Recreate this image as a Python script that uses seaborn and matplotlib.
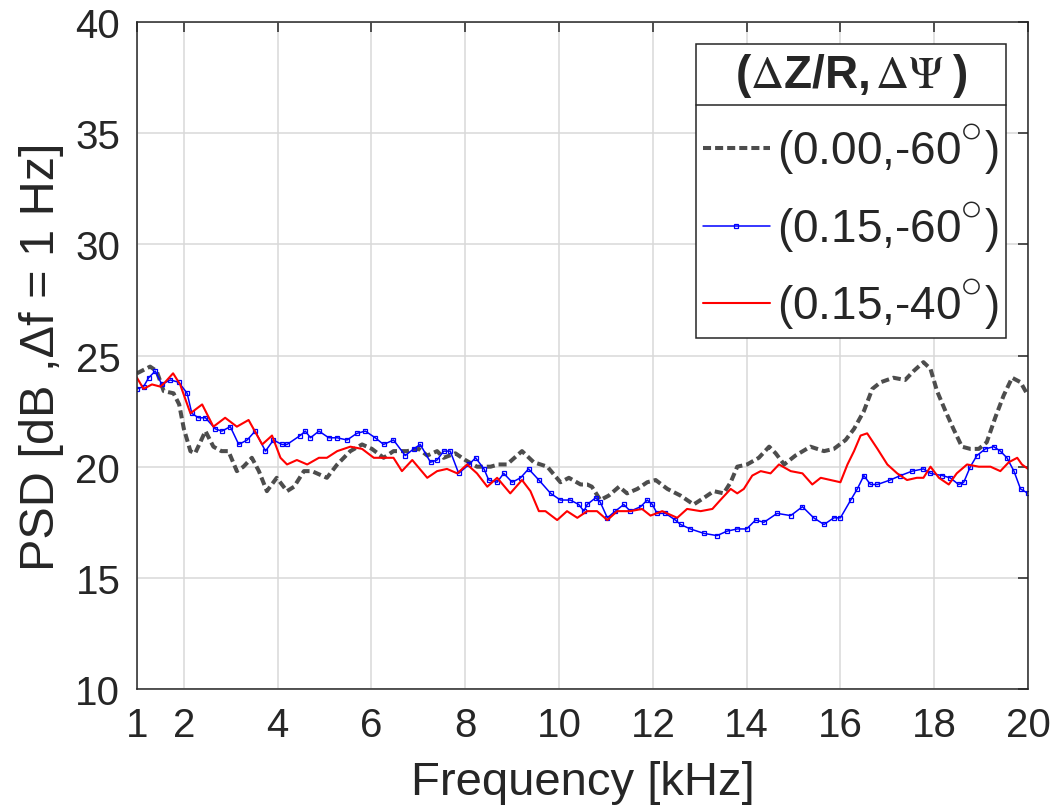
import matplotlib
matplotlib.use('Agg')
import matplotlib.pyplot as plt
from matplotlib.lines import Line2D
import pandas as pd
import seaborn as sns

OUT_FILE_NAME = 'out.png'

# series 1: (0.00,-60 deg), dotted gray
freq_a = [1.0, 1.28, 1.42, 1.57, 1.78, 1.9, 2.0, 2.14, 2.24, 2.46, 2.63, 2.8,
          2.95, 3.13, 3.27, 3.45, 3.6, 3.77, 3.98, 4.2, 4.35, 4.56, 4.73, 5.05,
          5.27, 5.55, 5.8, 6.01, 6.26, 6.47, 6.76, 7.01, 7.19, 7.4, 7.54, 7.79,
          8.0, 8.25, 8.54, 8.71, 8.89, 9.21, 9.46, 9.75, 10.03, 10.21, 10.46,
          10.6, 10.7, 10.88, 11.06, 11.28, 11.45, 11.67, 11.88, 12.06, 12.31,
          12.59, 12.87, 13.09, 13.3, 13.51, 13.66, 13.8, 14.01, 14.26, 14.48,
          14.62, 14.8, 15.04, 15.36, 15.65, 15.86, 16.11, 16.29, 16.5, 16.68,
          16.86, 17.13, 17.38, 17.56, 17.77, 17.92, 18.06, 18.24, 18.41, 18.59,
          18.77, 18.95, 19.12, 19.3, 19.48, 19.66, 19.84, 20.0]
psd_a = [24.2, 24.5, 24.3, 23.4, 23.3, 22.8, 21.7, 20.7, 20.6, 21.6, 20.9, 20.7,
         20.7, 19.8, 20.0, 20.4, 19.8, 18.9, 19.5, 18.9, 19.1, 19.8, 19.8, 19.5,
         20.1, 20.7, 21.0, 20.8, 20.4, 20.7, 20.7, 20.8, 20.5, 20.7, 20.4, 20.6,
         20.3, 20.0, 20.0, 20.1, 20.1, 20.7, 20.2, 20.0, 19.3, 19.5, 19.2,
         19.2, 19.1, 18.5, 18.7, 19.1, 18.8, 19.0, 19.3, 19.4, 19.0,
         18.7, 18.3, 18.6, 18.9, 18.8, 19.3, 20.0, 20.1, 20.4, 20.9,
         20.6, 20.1, 20.5, 20.9, 20.7, 20.8, 21.2, 21.7, 22.5, 23.5,
         23.8, 24.0, 23.9, 24.3, 24.7, 24.4, 23.4, 22.5, 21.7, 20.9,
         20.8, 20.8, 21.1, 22.2, 23.2, 24.0, 23.8, 23.2]

# series 2: (0.15,-60 deg), blue with square markers
freq_b = [1.0, 1.14, 1.25, 1.39, 1.53, 1.71, 1.89, 2.07, 2.17, 2.31, 2.46, 2.67,
          2.81, 2.99, 3.17, 3.35, 3.52, 3.74, 3.91, 4.09, 4.2, 4.48, 4.59, 4.7,
          4.88, 5.09, 5.27, 5.48, 5.69, 5.87, 6.08, 6.26, 6.47, 6.72, 6.9, 7.04,
          7.26, 7.4, 7.54, 7.68, 7.86, 8.08, 8.22, 8.4, 8.5, 8.68, 8.82, 9.0,
          9.18, 9.35, 9.57, 9.82, 10.03, 10.24, 10.42, 10.53, 10.6, 10.78,
          10.88, 11.03, 11.2, 11.38, 11.52, 11.74, 11.88, 11.99, 12.09, 12.27,
          12.48, 12.59, 12.8, 13.09, 13.37, 13.58, 13.8, 14.0, 14.19, 14.37,
          14.65, 14.94, 15.19, 15.43, 15.65, 15.86, 16.0, 16.22, 16.36, 16.5,
          16.64, 16.79, 17.06, 17.28, 17.53, 17.77, 17.92, 18.17, 18.34, 18.52,
          18.63, 18.77, 18.91, 19.09, 19.27, 19.41, 19.55, 19.7, 19.84, 20.0]
psd_b = [23.5, 23.6, 24.0, 24.3, 23.7, 23.9, 23.8, 23.3, 22.4, 22.2, 22.2, 21.7,
         21.6, 21.8, 21.0, 21.2, 21.6, 20.7, 21.2, 21.0, 21.0, 21.4, 21.6, 21.3,
         21.6, 21.3, 21.3, 21.2, 21.5, 21.6, 21.3, 21.0, 21.2, 20.5, 20.8, 21.0,
         20.2, 20.3, 20.7, 20.7, 19.7, 20.1, 20.4, 19.9, 19.4, 19.3, 19.7, 19.3,
         19.5, 19.9, 19.4, 18.8, 18.5, 18.5, 18.3, 18.0, 18.3, 18.6,
         18.4, 17.7, 18.0, 18.3, 18.0, 18.2, 18.5, 18.3, 17.9, 17.9,
         17.6, 17.4, 17.2, 17.0, 16.9, 17.1, 17.2, 17.2, 17.6, 17.5,
         17.9, 17.8, 18.2, 17.7, 17.4, 17.7, 17.7, 18.5, 19.0, 19.6,
         19.2, 19.2, 19.4, 19.6, 19.8, 19.9, 19.7, 19.6, 19.5, 19.2,
         19.3, 20.0, 20.5, 20.8, 20.9, 20.7, 20.4, 19.8, 19.0, 18.8]

# series 3: (0.15,-40 deg), red
freq_c = [1.0, 1.14, 1.32, 1.5, 1.6, 1.77, 1.92, 2.14, 2.39, 2.63, 2.88, 3.13,
          3.38, 3.67, 3.88, 4.06, 4.2, 4.41, 4.63, 4.88, 5.05, 5.27, 5.55, 5.8,
          6.05, 6.26, 6.47, 6.65, 6.87, 7.19, 7.4, 7.61, 7.83, 8.04, 8.25, 8.47,
          8.68, 8.96, 9.21, 9.39, 9.57, 9.71, 9.96, 10.17, 10.39, 10.6, 10.81,
          11.03, 11.24, 11.52, 11.77, 11.95, 12.2, 12.52, 12.73, 13.02, 13.27,
          13.44, 13.66, 13.8, 13.94, 14.12, 14.3, 14.51, 14.69, 14.94, 15.19,
          15.4, 15.58, 15.79, 16.0, 16.15, 16.29, 16.43, 16.57, 16.79, 17.0,
          17.21, 17.42, 17.63, 17.77, 17.92, 18.1, 18.31, 18.48, 18.7, 18.95,
          19.2, 19.41, 19.59, 19.77, 19.87, 20.0]
psd_c = [24.0, 23.5, 23.7, 23.6, 23.8, 24.2, 23.7, 22.4, 22.8, 21.8, 22.2, 21.8,
         22.1, 21.0, 21.4, 20.4, 20.1, 20.3, 20.1, 20.4, 20.4, 20.7, 20.9, 20.8,
         20.4, 20.4, 20.4, 19.8, 20.3, 19.5, 19.8, 19.9, 19.7, 20.1, 19.7, 19.1,
         19.5, 18.8, 19.4, 18.9, 18.0, 18.0, 17.6, 18.0, 17.7, 18.0, 18.0,
         17.6, 18.0, 18.0, 18.1, 17.8, 18.0, 17.7, 18.1, 18.0, 18.1,
         18.5, 19.0, 18.8, 19.0, 19.6, 19.8, 19.7, 20.1, 19.8, 19.7,
         19.2, 19.5, 19.4, 19.3, 20.1, 20.7, 21.4, 21.5, 20.8, 20.1,
         19.7, 19.4, 19.5, 19.5, 20.0, 19.5, 19.2, 19.7, 20.1, 20.0,
         20.0, 19.8, 20.2, 20.4, 20.1, 19.9]

labels = ['(0.00,-60$^{{}^{\\bigcirc}}$)', '(0.15,-60$^{{}^{\\bigcirc}}$)',
          '(0.15,-40$^{{}^{\\bigcirc}}$)']
legend_title = '($\\Delta$Z/R,$\\,\\Delta\\Psi\\;$)'
x_ticks = [1, 2, 4, 6, 8, 10, 12, 14, 16, 18, 20]
y_ticks = [10, 15, 20, 25, 30, 35, 40]

AXIS_COLOR = '#262626'


def main():
    sns.set_style('white')
    plt.rcParams['font.family'] = ['Liberation Sans', 'DejaVu Sans']
    plt.rcParams['mathtext.fontset'] = 'stix'

    fig = plt.figure(figsize=(10.56, 8.12), dpi=100)
    ax = fig.add_axes([0.1297, 0.1502, 0.8438, 0.8215])

    df_a = pd.DataFrame({'freq': freq_a, 'psd': psd_a})
    df_b = pd.DataFrame({'freq': freq_b, 'psd': psd_b})
    df_c = pd.DataFrame({'freq': freq_c, 'psd': psd_c})

    sns.lineplot(data=df_a, x='freq', y='psd', ax=ax, estimator=None,
                 color='#4d4d4d', linewidth=2.9, linestyle=(0, (2, 1)),
                 label=labels[0])
    sns.lineplot(data=df_b, x='freq', y='psd', ax=ax, estimator=None,
                 color='blue', linewidth=1.1, marker='s', markersize=3,
                 markerfacecolor='none', markeredgecolor='blue',
                 markeredgewidth=0.9, label=labels[1])
    sns.lineplot(data=df_c, x='freq', y='psd', ax=ax, estimator=None,
                 color='red', linewidth=1.5, label=labels[2])

    ax.set_xlim(1, 20)
    ax.set_ylim(10, 40)
    ax.set_xticks(x_ticks)
    ax.set_yticks(y_ticks)
    ax.grid(True, color='#d9d9d9', linewidth=1.1)
    ax.tick_params(direction='in', length=7, width=1.1, colors=AXIS_COLOR,
                   labelsize=29, top=True, right=True)
    ax.tick_params(axis='x', pad=12)
    ax.tick_params(axis='y', pad=12)
    for spine in ax.spines.values():
        spine.set_color(AXIS_COLOR)
        spine.set_linewidth(1.1)
        spine.set_visible(True)

    ax.set_xlabel('Frequency [kHz]', fontsize=34, color=AXIS_COLOR, labelpad=12)
    ax.set_ylabel('PSD [dB ,\u0394f = 1 Hz]', fontsize=35, color=AXIS_COLOR,
                  labelpad=8)

    leg = ax.legend(loc='upper right', bbox_to_anchor=(0.975, 0.967),
                    borderaxespad=0, fontsize=33, title=legend_title,
                    title_fontproperties={'size': 33, 'weight': 'bold'},
                    fancybox=False, framealpha=1, edgecolor=AXIS_COLOR,
                    handlelength=1.45, handletextpad=0.17, labelspacing=0.48,
                    borderpad=0.15)
    leg.get_frame().set_linewidth(1.1)

    # MATLAB-style line between legend title and entries
    fig.canvas.draw()
    renderer = fig.canvas.get_renderer()
    tb = leg.get_title().get_window_extent(renderer)
    fb = leg.get_frame().get_window_extent(renderer)
    inv = fig.transFigure.inverted()
    (x0, y0), (x1, _) = inv.transform([(fb.x0, tb.y0 - 6), (fb.x1, tb.y0 - 6)])
    fig.add_artist(Line2D([x0, x1], [y0, y0], color=AXIS_COLOR, linewidth=1.1,
                          transform=fig.transFigure))

    fig.savefig(OUT_FILE_NAME, dpi=100)
    plt.close(fig)


if __name__ == '__main__':
    main()
